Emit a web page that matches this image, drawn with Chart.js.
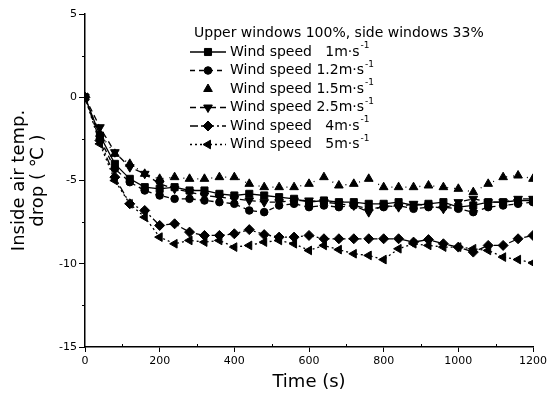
<!DOCTYPE html>
<html><head><meta charset="utf-8">
<script src="https://cdn.jsdelivr.net/npm/chart.js@4.4.0/dist/chart.umd.min.js"></script>
<style>html,body{margin:0;padding:0;background:#fff}#wrap{width:550px;height:401px}</style>
</head><body><div id="wrap"><canvas id="c" width="550" height="401"></canvas></div>
<script>
// ---- data ----
const times = [0,40,80,120,160,200,240,280,320,360,400,440,480,520,560,600,640,680,720,760,800,840,880,920,960,1000,1040,1080,1120,1160,1200];
const ws1  = [0,-2.3,-4.0,-4.9,-5.4,-5.5,-5.4,-5.6,-5.6,-5.8,-5.9,-5.8,-5.9,-6.0,-6.1,-6.3,-6.2,-6.3,-6.3,-6.4,-6.4,-6.3,-6.5,-6.4,-6.3,-6.6,-6.5,-6.3,-6.3,-6.2,-6.2];
const ws12 = [0,-2.5,-4.3,-5.1,-5.6,-5.9,-6.1,-6.1,-6.2,-6.3,-6.4,-6.8,-6.9,-6.5,-6.4,-6.6,-6.5,-6.6,-6.5,-6.7,-6.6,-6.5,-6.7,-6.6,-6.6,-6.7,-6.9,-6.6,-6.5,-6.4,-6.3];
const ws15 = [0,-2.2,-3.4,-4.0,-4.6,-4.9,-4.8,-4.9,-4.9,-4.8,-4.8,-5.2,-5.4,-5.4,-5.4,-5.2,-4.8,-5.3,-5.2,-4.9,-5.4,-5.4,-5.4,-5.3,-5.4,-5.5,-5.7,-5.2,-4.8,-4.7,-4.9];
const ws25 = [0,-1.8,-3.3,-4.2,-4.6,-5.2,-5.5,-5.7,-5.9,-6.0,-6.1,-6.2,-6.3,-6.3,-6.2,-6.2,-6.3,-6.4,-6.5,-6.9,-6.5,-6.6,-6.4,-6.5,-6.7,-6.3,-6.1,-6.3,-6.3,-6.1,-6.1];
const ws4  = [0,-2.6,-4.8,-6.4,-6.8,-7.7,-7.6,-8.1,-8.3,-8.3,-8.2,-7.95,-8.25,-8.4,-8.4,-8.3,-8.5,-8.5,-8.5,-8.5,-8.5,-8.5,-8.7,-8.55,-8.8,-9.0,-9.3,-8.9,-8.9,-8.5,-8.3];
const ws5  = [0,-2.8,-5.0,-6.4,-7.2,-8.4,-8.8,-8.6,-8.7,-8.6,-9.0,-8.9,-8.7,-8.6,-8.8,-9.2,-8.9,-9.15,-9.4,-9.5,-9.75,-9.1,-8.8,-8.9,-9.0,-9.0,-9.1,-9.2,-9.6,-9.75,-9.95];
const seriesLabels = ['Wind speed   1m·s⁻¹','Wind speed 1.2m·s⁻¹','Wind speed 1.5m·s⁻¹','Wind speed 2.5m·s⁻¹','Wind speed   4m·s⁻¹','Wind speed   5m·s⁻¹'];
const legendTitle = 'Upper windows 100%, side windows 33%';
const xTitle = 'Time (s)';
const yTitle = ['Inside air temp.', 'drop ( ℃ )'];

const FONT = "'DejaVu Sans', sans-serif";
const pairs = v => times.map((t,i)=>({x:t,y:v[i]}));

const styles = [
  {data: ws1,  pointStyle:'rect',     radius:5,   rotation:0,   dash:[],         legendLine:true},
  {data: ws12, pointStyle:'circle',   radius:3.8, rotation:0,   dash:[5,4],      legendLine:true},
  {data: ws15, pointStyle:'triangle', radius:5,   rotation:0,   dash:[1,6],      legendLine:false},
  {data: ws25, pointStyle:'triangle', radius:5,   rotation:180, dash:[6,4],      legendLine:true},
  {data: ws4,  pointStyle:'rectRot',  radius:5,   rotation:0,   dash:[8,3,2,3],  legendLine:true},
  {data: ws5,  pointStyle:'triangle', radius:5,   rotation:-90, dash:[2,3],      legendLine:true},
];

const datasets = styles.map((s,i)=>({
  label: seriesLabels[i],
  data: pairs(s.data),
  borderColor:'#000', backgroundColor:'#000',
  borderWidth: 1.3, borderDash: s.dash,
  pointStyle: s.pointStyle, pointRadius: s.radius, pointRotation: s.rotation,
  pointBorderWidth: 1, pointBackgroundColor:'#000', pointBorderColor:'#000',
  showLine: true, tension: 0, legendLine: s.legendLine
}));

const legendPlugin = {
  id:'customLegend',
  afterDraw(chart){
    const ctx = chart.ctx;
    ctx.save();
    ctx.fillStyle = '#000';
    ctx.textBaseline = 'middle';
    ctx.font = '14px ' + FONT;
    ctx.fillText(legendTitle, 194, 33);
    chart.data.datasets.forEach((ds,i)=>{
      const y = 52 + i*18.5;
      if (ds.legendLine){
        ctx.save();
        ctx.strokeStyle = '#000'; ctx.lineWidth = 1.3;
        ctx.setLineDash(ds.borderDash || []);
        ctx.beginPath(); ctx.moveTo(190, y); ctx.lineTo(226, y); ctx.stroke();
        ctx.restore();
      }
      ctx.fillStyle = '#000'; ctx.strokeStyle = '#000';
      Chart.helpers.drawPoint(ctx, {pointStyle: ds.pointStyle, radius: ds.pointRadius, rotation: ds.pointRotation, borderWidth: 1}, 208, y);
      const m = ds.label.replace('⁻¹','');
      ctx.font = '14px ' + FONT;
      ctx.fillText(m, 230, y);
      const w = ctx.measureText(m).width;
      ctx.font = '9px ' + FONT;
      ctx.fillText('-1', w + 231, y - 6);
    });
    ctx.restore();
  }
};

const minorTicks = {
  id:'minorTicks',
  afterDraw(chart){
    const ctx = chart.ctx, xs = chart.scales.x, ys = chart.scales.y;
    ctx.save(); ctx.strokeStyle = '#000'; ctx.lineWidth = 1;
    ctx.beginPath();
    for (let v = 100; v < 1200; v += 200){ const p = Math.round(xs.getPixelForValue(v))+0.5; ctx.moveTo(p, xs.top); ctx.lineTo(p, xs.top - 3); }
    for (let v = 2.5; v > -15; v -= 5){ const p = Math.round(ys.getPixelForValue(v))+0.5; ctx.moveTo(ys.right, p); ctx.lineTo(ys.right - 3, p); }
    ctx.stroke(); ctx.restore();
  }
};

new Chart(document.getElementById('c'), {
  type:'scatter',
  data:{datasets},
  plugins:[legendPlugin, minorTicks],
  options:{
    responsive:false, animation:false, devicePixelRatio:1,
    layout:{padding:{top:14,right:15,bottom:0,left:0}},
    plugins:{legend:{display:false}, tooltip:{enabled:false}},
    scales:{
      x:{type:'linear', min:0, max:1200,
         afterFit(s){ s.height = 54; },
         border:{display:true,color:'#000',width:1.5},
         grid:{display:true, drawOnChartArea:false, drawTicks:true, tickLength:5, tickColor:'#000', tickWidth:1},
         ticks:{stepSize:200, autoSkip:false, maxRotation:0, color:'#000', padding:3, font:{family:FONT,size:11},
                callback:v=>String(v)},
         title:{display:true, text:xTitle, color:'#000', font:{family:FONT,size:18}, padding:{top:0,bottom:8}}
      },
      y:{type:'linear', min:-15, max:5,
         afterFit(s){ s.width = 85; },
         border:{display:true,color:'#000',width:1.5},
         grid:{display:true, drawOnChartArea:false, drawTicks:true, tickLength:6, tickColor:'#000', tickWidth:1},
         ticks:{stepSize:5, autoSkip:false, color:'#000', padding:2, font:{family:FONT,size:11},
                callback:v=>String(v)},
         title:{display:true, text:yTitle, color:'#000', font:{family:FONT,size:18,lineHeight:1.05}, padding:{top:10,bottom:0}}
      }
    }
  }
});
</script></body></html>
